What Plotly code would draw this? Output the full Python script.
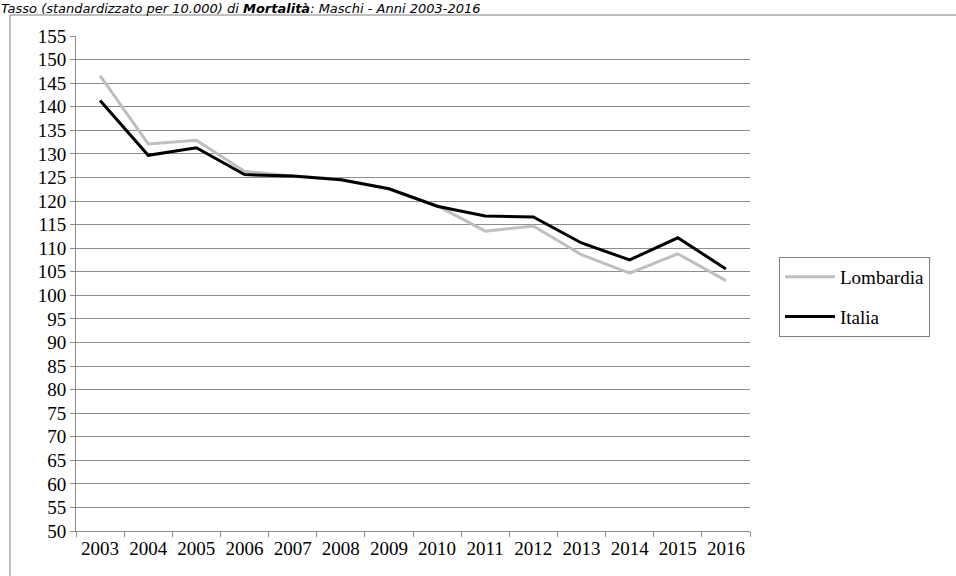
import plotly.graph_objects as go

anni = ["2003", "2004", "2005", "2006", "2007", "2008", "2009", "2010",
        "2011", "2012", "2013", "2014", "2015", "2016"]
lombardia = [146.6, 132.1, 132.9, 126.3, 125.3, 124.6, 122.6, 119.0,
             113.6, 114.7, 108.6, 104.7, 108.8, 103.1]
italia = [141.3, 129.7, 131.3, 125.6, 125.3, 124.5, 122.6, 118.9,
          116.8, 116.6, 111.1, 107.5, 112.2, 105.6]
y_ticks = list(range(50, 156, 5))

fig = go.Figure()
fig.add_trace(go.Scatter(x=anni, y=lombardia, name="Lombardia", mode="lines",
                         line=dict(color="#BFBFBF", width=3), legendgroup="a"))
fig.add_trace(go.Scatter(x=anni, y=italia, name="Italia", mode="lines",
                         line=dict(color="#000000", width=3), legendgroup="b"))

L, R, T, B = 76, 206, 36, 45
W, H = 956, 576
pw, ph = W - L - R, H - T - B

def px_x(px):
    return (px - L) / pw

def px_y(py):
    return 1 - (py - T) / ph

fig.update_layout(
    width=W, height=H,
    margin=dict(l=L, r=R, t=T, b=B, autoexpand=False),
    paper_bgcolor="white", plot_bgcolor="white",
    font=dict(family="Liberation Serif, Times New Roman, serif", size=19, color="#000000"),
    showlegend=True,
    legend=dict(x=px_x(779), y=px_y(257), xanchor="left", yanchor="top",
                bordercolor="#808080", borderwidth=1, tracegroupgap=12,
                itemwidth=50, font=dict(size=19), bgcolor="white"),
    xaxis=dict(type="category", range=[-0.5, 13.5], showgrid=False,
               showline=True, linecolor="#8c8c8c", linewidth=1,
               ticks="outside", ticklen=5, tickcolor="#8c8c8c",
               tickson="boundaries", automargin=False),
    yaxis=dict(range=[50, 155], tickvals=y_ticks, showgrid=True,
               gridcolor="#8c8c8c", gridwidth=1, zeroline=False,
               showline=True, linecolor="#8c8c8c", linewidth=1,
               ticks="outside", ticklen=5, tickcolor="#8c8c8c",
               automargin=False),
    shapes=[dict(type="rect", xref="paper", yref="paper",
                 x0=px_x(10), x1=px_x(1000), y0=px_y(620), y1=px_y(15),
                 line=dict(color="#808080", width=1), layer="below")],
    annotations=[dict(
        text="<i>Tasso (standardizzato per 10.000) di <b>Mortalità</b>: Maschi - Anni 2003-2016</i>",
        xref="paper", yref="paper", x=px_x(0), y=px_y(0),
        xanchor="left", yanchor="top", showarrow=False, borderpad=0,
        font=dict(family="DejaVu Sans, Verdana, sans-serif", size=13, color="#000000"))],
)

fig.write_html("out.html", config={"displayModeBar": False},
               post_script="document.body.style.margin='0px';")
